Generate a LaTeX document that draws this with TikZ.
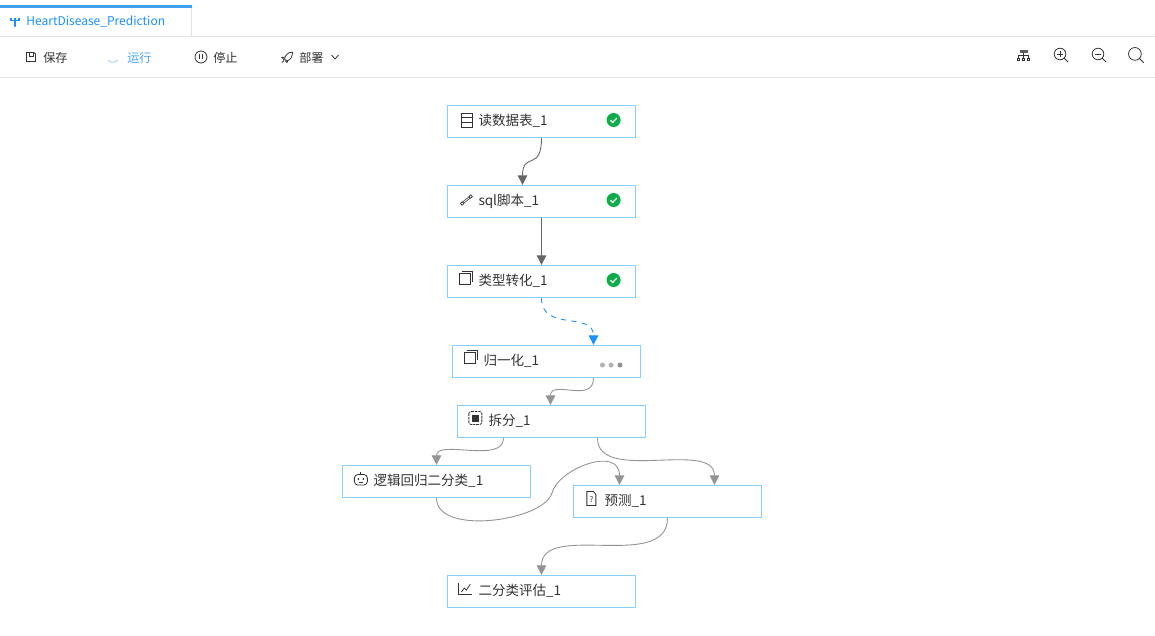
\documentclass[tikz,border=0pt]{standalone}
\usepackage{fontspec}
\setmainfont{Noto Sans CJK SC}
\usetikzlibrary{arrows.meta}
\definecolor{tabblue}{HTML}{40A0F0}
\definecolor{runblue}{HTML}{1890FF}
\definecolor{boxblue}{HTML}{85CFFF}
\definecolor{okgreen}{HTML}{0BAE48}
\definecolor{inkgray}{HTML}{333333}
\definecolor{rulegray}{HTML}{E2E2E2}
\tikzset{
  flowbox/.style={draw=boxblue, line width=.72pt, fill=white, minimum height=.64cm, inner xsep=.62cm, inner ysep=0pt, text width=2.52cm, text height=6pt, text depth=1.8pt, align=left, text=inkgray, font=\fontsize{7.7}{9}\selectfont},
  barlabel/.style={inner sep=0pt, text=inkgray, font=\fontsize{6.9}{9}\selectfont},
  flowedge/.style={draw=gray!85, line width=.5pt, -{Triangle[width=.19cm,length=.19cm]}},
  doneedge/.style={flowedge, draw=black!60},
  runedge/.style={flowedge, draw=runblue, dashed},
  iconline/.style={draw=inkgray, line width=.45pt},
  checkpic/.pic={
    \fill[okgreen] (0,0) circle (7);
    \draw[white, line width=.7pt] (-3.2,.2) -- (-.9,2.5) -- (3.2,-2);
  },
  tablepic/.pic={
    \draw[iconline] (-5.5,-7) rectangle (5.5,7) (-5.5,-2.5) -- (5.5,-2.5) (-5.5,2.5) -- (5.5,2.5);
  },
  wrenchpic/.pic={
    \draw[inkgray, line width=1.3pt] (-3.5,2.8) -- (3.5,-2.8);
    \draw[white, line width=.5pt] (-3,2.4) -- (3,-2.4);
    \draw[iconline, fill=white, line width=.4pt] (-4.3,3.5) circle (1.7) (4.3,-3.5) circle (1.7);
  },
  copypic/.pic={
    \draw[iconline] (-6,-4.5) rectangle (4.5,6.5);
    \draw[iconline] (-3.5,-6.5) -- (6.5,-6.5) -- (6.5,3.5);
  },
  chippic/.pic={
    \draw[iconline, dashed, dash pattern=on 1.5pt off .5pt, rounded corners=1pt] (-6.5,-6.5) rectangle (6.5,6.5);
    \fill[inkgray] (-3.5,-3.5) rectangle (3.5,3.5);
  },
  robotpic/.pic={
    \draw[iconline, rounded corners=2pt] (-6.5,-4) rectangle (6.5,6.5);
    \draw[iconline] (0,-4) -- (0,-7);
    \fill[inkgray] (-2.5,.5) circle (.9) (2.5,.5) circle (.9);
    \draw[iconline] (-2,3.8) -- (2,3.8);
  },
  docpic/.pic={
    \draw[iconline] (-4.5,-7) -- (2,-7) -- (4.5,-4) -- (4.5,7) -- (-4.5,7) -- cycle;
    \node[inner sep=0pt, text=inkgray, font=\fontsize{4.5}{5}\selectfont] (docmark) at (0,1) {?};
  },
  chartpic/.pic={
    \draw[iconline] (-6.5,-6.5) -- (-6.5,5.5) -- (6.5,5.5);
    \draw[iconline] (-4,3) -- (-1,-1) -- (1,1) -- (5,-5);
  },
  savepic/.pic={
    \draw[iconline] (-4.5,-4.5) -- (3,-4.5) -- (4.5,-3) -- (4.5,4.5) -- (-4.5,4.5) -- cycle;
    \draw[iconline] (-2,-4.5) -- (-2,-1) -- (2,-1) -- (2,-4.5);
  },
  pausepic/.pic={
    \draw[iconline] (0,0) circle (6);
    \draw[iconline] (-1.5,-2.5) -- (-1.5,2.5) (1.5,-2.5) -- (1.5,2.5);
  },
  rocketpic/.pic={
    \draw[iconline] (5.5,-5.5) .. controls (1,-5.5) and (-2,-2) .. (-2.5,1.5) -- (-.5,3.5) .. controls (3,3) and (5.5,0) .. (5.5,-5.5);
    \draw[iconline] (-2.5,-.5) -- (-5,0) -- (-3,2) (.5,3.5) -- (0,5) -- (-1.5,3.5) (-3,3) -- (-5,5);
  },
  treepic/.pic={
    \fill[inkgray!80] (-4,-5) rectangle (4,-2);
    \draw[iconline] (0,-2) -- (0,0) (-5,3) -- (-5,0) -- (5,0) -- (5,3) (0,0) -- (0,3);
    \draw[iconline] (-6,3) rectangle (-4,5.5) (-1,3) rectangle (1,5.5) (4,3) rectangle (6,5.5);
  },
  lenspic/.pic={
    \draw[iconline] (-1,-1) circle (5.8);
    \draw[iconline] (3.2,3.2) -- (7,7);
  },
  forkpic/.pic={
    \draw[draw=runblue, line width=.6pt] (0,-3) -- (0,5) (-4,-3) -- (-4,-.5) -- (4,-.5) -- (4,-3);
    \fill[runblue] (0,5) circle (1.2);
  }
}
\begin{document}
\begin{tikzpicture}[x=.02cm, y=-.02cm]
\useasboundingbox[fill=white] (0,0) rectangle (1155,635);
% tab and toolbar
\draw[rulegray, line width=.6pt] (0,36.5) -- (1155,36.5);
\draw[rulegray, line width=.6pt] (0,77.5) -- (1155,77.5);
\draw[rulegray, line width=.6pt] (191.5,6) -- (191.5,36.5);
\fill[tabblue] (0,5) rectangle (192,8);
\pic at (15,21) {forkpic};
\node[barlabel, anchor=west, text=runblue, font=\fontsize{6.85}{9}\selectfont] (tabname) at (26,21.5) {HeartDisease\_Prediction};
\pic at (31,57) {savepic};
\node[barlabel, anchor=west] (savetext) at (43,58) {保存};
\draw[runblue!35, line width=.6pt] (108,60) .. controls (110,63) and (115,63) .. (118,60);
\node[barlabel, anchor=west, text=runblue!80] (runtext) at (127,58) {运行};
\pic at (201,57) {pausepic};
\node[barlabel, anchor=west] (stoptext) at (213,58) {停止};
\pic at (287,57.5) {rocketpic};
\node[barlabel, anchor=west] (deploytext) at (299,58) {部署};
\draw[iconline] (331.5,55) -- (335,59) -- (338.5,55);
\pic at (1023.5,55) {treepic};
\pic at (1061,55) {lenspic};
\draw[iconline] (1057,54) -- (1063,54) (1060,51) -- (1060,57);
\pic at (1099,55) {lenspic};
\draw[iconline] (1095,54) -- (1101,54);
\pic[scale=1.1] at (1136,55) {lenspic};
% boxes
\node[flowbox] (readtable) at (541.5,121.5) {读数据表\_1};
\node[flowbox] (sqlscript) at (541.5,201.5) {sql脚本\_1};
\node[flowbox] (typecast) at (541.5,281.5) {类型转化\_1};
\node[flowbox] (normalize) at (546.5,361.5) {归一化\_1};
\node[flowbox] (splitdata) at (551.5,421.5) {拆分\_1};
\node[flowbox] (logistic) at (436.5,481.5) {逻辑回归二分类\_1};
\node[flowbox] (predict) at (667.5,501.5) {预测\_1};
\node[flowbox] (evaluate) at (541.5,591.5) {二分类评估\_1};
% box icons
\pic at ([xshift=.4cm,yshift=.03cm]readtable.west) {tablepic};
\pic at ([xshift=.39cm,yshift=.03cm]sqlscript.west) {wrenchpic};
\pic at ([xshift=.38cm,yshift=.07cm]typecast.west) {copypic};
\pic at ([xshift=.38cm,yshift=.1cm]normalize.west) {copypic};
\pic at ([xshift=.37cm,yshift=.07cm]splitdata.west) {chippic};
\pic at ([xshift=.38cm,yshift=.06cm]logistic.west) {robotpic};
\pic at ([xshift=.37cm,yshift=.06cm]predict.west) {docpic};
\pic at ([xshift=.37cm,yshift=.05cm]evaluate.west) {chartpic};
% status marks
\pic at ([xshift=-.45cm,yshift=.03cm]readtable.east) {checkpic};
\pic at ([xshift=-.45cm,yshift=.03cm]sqlscript.east) {checkpic};
\pic at ([xshift=-.45cm,yshift=.03cm]typecast.east) {checkpic};
\fill[gray!60] (602.5,365) circle (2.5) (611,365) circle (2.5);
\fill[gray!85] (620,365) circle (2.5);
% connectors
\coordinate (crossing) at (552,493);
\draw[doneedge] (readtable.south) .. controls +(0,34) and +(0,-34) .. ([xshift=-.38cm]sqlscript.north);
\draw[doneedge] (sqlscript.south) -- (typecast.north);
\draw[runedge] (typecast.south) .. controls +(0,34) and +(0,-34) .. ([xshift=.94cm]normalize.north);
\draw[flowedge] ([xshift=.94cm]normalize.south) .. controls +(0,26) and +(0,-26) .. ([xshift=-.02cm]splitdata.north);
\draw[flowedge] ([xshift=-.96cm]splitdata.south) .. controls +(0,26) and +(0,-26) .. (logistic.north);
\draw[flowedge] ([xshift=.92cm]splitdata.south) .. controls +(0,46) and +(0,-46) .. ([xshift=.94cm]predict.north);
\draw[flowedge] (logistic.south) .. controls +(0,38) and +(-8,28) .. (crossing) .. controls +(6,-24) and +(0,-40) .. ([xshift=-.96cm]predict.north);
\draw[flowedge] (predict.south) .. controls +(0,54) and +(0,-54) .. (evaluate.north);
\end{tikzpicture}
\end{document}
